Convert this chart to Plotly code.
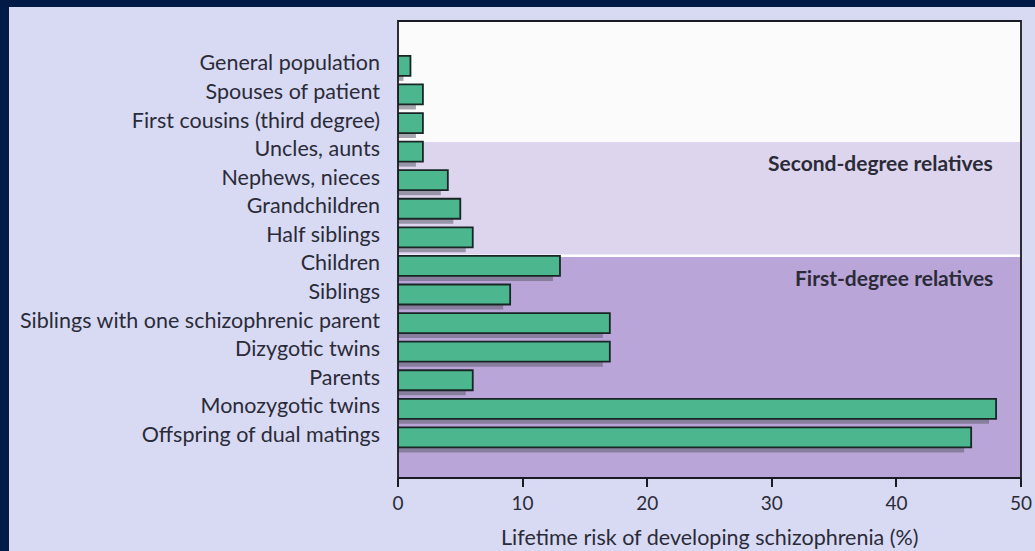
import plotly.graph_objects as go

# Lifetime risk of schizophrenia by relationship to a patient
relations = [
    "General population",
    "Spouses of patient",
    "First cousins (third degree)",
    "Uncles, aunts",
    "Nephews, nieces",
    "Grandchildren",
    "Half siblings",
    "Children",
    "Siblings",
    "Siblings with one schizophrenic parent",
    "Dizygotic twins",
    "Parents",
    "Monozygotic twins",
    "Offspring of dual matings",
]
risk_pct = [1, 2, 2, 2, 4, 5, 6, 13, 9, 17, 17, 6, 48, 46]
x_ticks = [0, 10, 20, 30, 40, 50]

W, H = 1035, 551
L, R, T, B = 398, 14, 21, 73
plot_w = W - L - R
plot_h = H - T - B

NAVY = "#011a46"
PANEL = "#d8daf4"
SECOND_BAND = "#ddd5ee"
FIRST_BAND = "#b9a5d8"
GREEN = "#4cb78f"
TEXT = "#2b2b38"
FONT = "Lato"

pos = list(range(len(relations)))
y_lo, y_hi = -1.57, 14.42
unit_px = plot_h / (y_hi - y_lo)
px_per_x = plot_w / 50.0

fig = go.Figure()

# drop shadow behind each bar
fig.add_trace(go.Bar(
    orientation="h",
    y=[p + 5 / unit_px for p in pos],
    x=[v - 7 / px_per_x for v in risk_pct],
    width=20 / unit_px,
    marker=dict(color="rgba(95,95,110,0.55)", line=dict(width=0)),
    hoverinfo="skip",
    showlegend=False,
))

# main bars
fig.add_trace(go.Bar(
    orientation="h",
    y=pos,
    x=risk_pct,
    width=20 / unit_px,
    marker=dict(color=GREEN, line=dict(color="#1a2626", width=1.8)),
    showlegend=False,
))

shapes = [
    # dark frame strips along the top and left of the page
    dict(type="rect", xref="paper", yref="paper",
         x0=-L / plot_w, x1=(W - L) / plot_w,
         y0=(plot_h + T - 7) / plot_h, y1=(plot_h + T) / plot_h,
         fillcolor=NAVY, line=dict(width=0), layer="below"),
    dict(type="rect", xref="paper", yref="paper",
         x0=-L / plot_w, x1=(9 - L) / plot_w,
         y0=-B / plot_h, y1=(plot_h + T) / plot_h,
         fillcolor=NAVY, line=dict(width=0), layer="below"),
    # relationship-degree bands
    dict(type="rect", xref="x", yref="y", x0=0, x1=50, y0=2.66, y1=6.64,
         fillcolor=SECOND_BAND, line=dict(width=0), layer="below"),
    dict(type="rect", xref="x", yref="y", x0=0, x1=50, y0=6.64, y1=y_hi,
         fillcolor=FIRST_BAND, line=dict(width=0), layer="below"),
    dict(type="line", xref="x", yref="y", x0=0, x1=50, y0=6.64, y1=6.64,
         line=dict(color="white", width=2.5), layer="below"),
    # frame around the plot area
    dict(type="rect", xref="paper", yref="paper", x0=0, x1=1, y0=0, y1=1,
         line=dict(color="#1a1a22", width=1.8), fillcolor="rgba(0,0,0,0)"),
]

annotations = [
    dict(x=47.9, y=3.38, xref="x", yref="y", text="<b>Second-degree relatives</b>",
         showarrow=False, xanchor="right", yanchor="middle",
         font=dict(family=FONT, size=21, color=TEXT)),
    dict(x=47.9, y=7.42, xref="x", yref="y", text="<b>First-degree relatives</b>",
         showarrow=False, xanchor="right", yanchor="middle",
         font=dict(family=FONT, size=21, color=TEXT)),
    # x-axis title
    dict(x=0.5, y=(plot_h - (537 - T)) / plot_h, xref="paper", yref="paper",
         text="Lifetime risk of developing schizophrenia (%)",
         showarrow=False, xanchor="center", yanchor="middle",
         font=dict(family=FONT, size=21.5, color=TEXT)),
]

# category labels sit slightly above the centre of their bars
label_pos = [p - 3 / unit_px for p in pos]

fig.update_layout(
    width=W, height=H,
    margin=dict(l=L, r=R, t=T, b=B, pad=0, autoexpand=False),
    paper_bgcolor=PANEL,
    plot_bgcolor="#fbfbfb",
    barmode="overlay",
    shapes=shapes,
    annotations=annotations,
    font=dict(family=FONT, color=TEXT),
    xaxis=dict(
        range=[0, 50], tickvals=x_ticks, showgrid=False, zeroline=False,
        automargin=False,
        ticks="outside", ticklen=8, tickwidth=1.5, tickcolor="#1a1a22",
        tickfont=dict(family=FONT, size=19, color=TEXT),
        showline=False,
    ),
    yaxis=dict(
        range=[y_hi, y_lo], tickvals=label_pos, ticktext=relations,
        showgrid=False, zeroline=False, showline=False, automargin=False,
        ticks="", ticklabelstandoff=17,
        tickfont=dict(family=FONT, size=21.5, color=TEXT),
    ),
)

fig.write_html("out.html")
